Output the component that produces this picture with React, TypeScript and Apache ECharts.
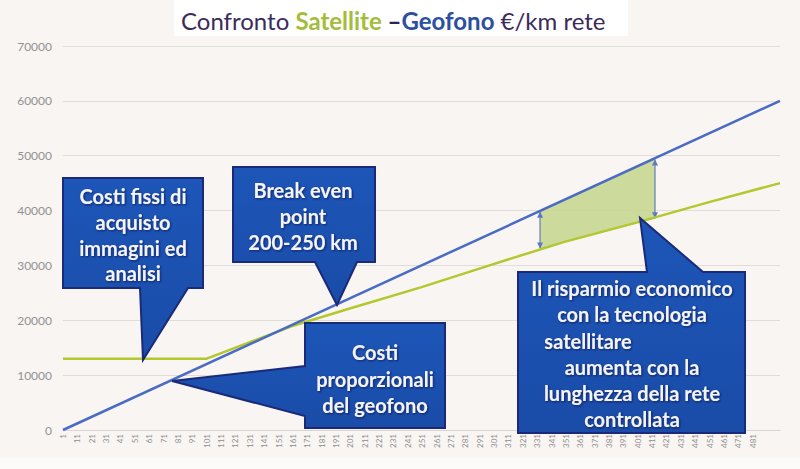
import React, { useEffect, useRef } from 'react';
import * as echarts from 'echarts';

// x categories: network length in km, 1..500
const kmCategories: string[] = Array.from({ length: 500 }, (_, i) => String(i + 1));

// y axis
const yMin = 0;
const yMax = 70000;
const yInterval = 10000;

// Geofono (blue) cost line
const geofonoKm = ['1', '500'];
const geofonoCost = [0, 60000];

// Satellite (green) cost line
const satelliteKm = ['1', '101', '160', '200', '250', '300', '350', '400', '450', '500'];
const satelliteCost = [13000, 13000, 18900, 22100, 26000, 30200, 34300, 37800, 41500, 45000];

// Savings band (shaded area between the lines)
const savingsKm = ['333', '413'];
const savingsTop = [39800, 49300];
const savingsBottom = [33100, 38600];

// Title parts
const titleParts = ['Confronto ', 'Satellite', ' –', 'Geofono', ' €/km rete'];

// Callout texts
const callout1Lines = ['Costi fissi di', 'acquisto', 'immagini ed', 'analisi'];
const callout2Lines = ['Break even', 'point', '200-250 km'];
const callout3Lines = ['Costi', 'proporzionali', 'del geofono'];
const callout4Lines = ['Il risparmio economico', 'con la tecnologia', 'satellitare', 'aumenta con la', 'lunghezza della rete', 'controllata'];

const BOX_FILL = new echarts.graphic.LinearGradient(0, 0, 0, 1, [
  { offset: 0, color: '#1d56b8' },
  { offset: 1, color: '#1a4ca8' },
]);
const BOX_STROKE = '#1a2a78';
const CALLOUT_FONT = 'bold 20px Lato';

function calloutText(lines: string[], cx: number[], ys: number[]) {
  return lines.map((t, i) => ({
    type: 'text',
    z: 101,
    x: cx[i],
    y: ys[i],
    style: {
      text: t,
      fill: '#f4f4f6',
      font: CALLOUT_FONT,
      align: 'center',
      verticalAlign: 'middle',
      textShadowColor: 'rgba(10,20,70,0.7)',
      textShadowBlur: 2,
      textShadowOffsetX: 1,
      textShadowOffsetY: 1,
    },
  }));
}

function calloutShape(points: number[][]) {
  return {
    type: 'polygon',
    z: 100,
    shape: { points },
    style: { fill: BOX_FILL, stroke: BOX_STROKE, lineWidth: 2 },
  };
}

export default function App() {
  const ref = useRef<HTMLDivElement>(null);

  useEffect(() => {
    document.body.style.margin = '0';
    if (!ref.current) return;
    const chart = echarts.init(ref.current, null, { renderer: 'svg' });

    const geofonoData = geofonoKm.map((k, i) => [k, geofonoCost[i]]);
    const satelliteData = satelliteKm.map((k, i) => [k, satelliteCost[i]]);
    const bandData = [[
      kmCategories.indexOf(savingsKm[0]), savingsTop[0], savingsBottom[0],
      kmCategories.indexOf(savingsKm[1]), savingsTop[1], savingsBottom[1],
    ]];

    const option: any = {
      animation: false,
      backgroundColor: '#f9f5f2',
      grid: { left: 63, right: 20, top: 46, bottom: 39, containLabel: false },
      xAxis: {
        type: 'category',
        data: kmCategories,
        boundaryGap: false,
        axisLine: { show: true, lineStyle: { color: '#d9d5d1', width: 1 } },
        axisTick: { show: false },
        axisLabel: {
          interval: 9,
          rotate: 90,
          fontSize: 8,
          color: '#8f8f8f',
          fontFamily: 'Lato',
          margin: 4,
          showMaxLabel: false,
        },
        splitLine: { show: false },
      },
      yAxis: {
        type: 'value',
        min: yMin,
        max: yMax,
        interval: yInterval,
        axisLine: { show: false },
        axisTick: { show: false },
        axisLabel: {
          color: '#929292',
          fontSize: 12,
          fontFamily: 'Lato',
          margin: 11,
          formatter: (v: number) => String(v),
        },
        splitLine: { lineStyle: { color: '#e0dcd8', width: 1 } },
      },
      series: [
        {
          type: 'custom',
          z: 1,
          renderItem: (params: any, api: any) => {
            const x0 = api.value(0), t0 = api.value(1), b0 = api.value(2);
            const x1 = api.value(3), t1 = api.value(4), b1 = api.value(5);
            const pt0 = api.coord([x0, t0]);
            const pb0 = api.coord([x0, b0]);
            const pt1 = api.coord([x1, t1]);
            const pb1 = api.coord([x1, b1]);
            const arrowColor = '#5a78c8';
            const arrow = (p: number[], up: boolean) => ({
              type: 'polygon',
              shape: {
                points: up
                  ? [[p[0], p[1]], [p[0] - 3, p[1] + 6], [p[0] + 3, p[1] + 6]]
                  : [[p[0], p[1]], [p[0] - 3, p[1] - 6], [p[0] + 3, p[1] - 6]],
              },
              style: { fill: arrowColor },
            });
            return {
              type: 'group',
              children: [
                {
                  type: 'polygon',
                  shape: { points: [pt0, pt1, pb1, pb0] },
                  style: { fill: 'rgba(196,214,140,0.85)', stroke: 'rgba(160,180,110,0.6)', lineWidth: 1 },
                },
                { type: 'line', shape: { x1: pt0[0], y1: pt0[1], x2: pb0[0], y2: pb0[1] }, style: { stroke: arrowColor, lineWidth: 1 } },
                { type: 'line', shape: { x1: pt1[0], y1: pt1[1], x2: pb1[0], y2: pb1[1] }, style: { stroke: arrowColor, lineWidth: 1 } },
                arrow(pt0, true), arrow(pb0, false), arrow(pt1, true), arrow(pb1, false),
              ],
            };
          },
          encode: { x: [0, 3], y: [1, 2, 4, 5] },
          data: bandData,
          silent: true,
        },
        {
          name: 'Satellite',
          type: 'line',
          z: 3,
          data: satelliteData,
          showSymbol: false,
          symbol: 'none',
          lineStyle: { color: '#b2c82e', width: 2.5 },
        },
        {
          name: 'Geofono',
          type: 'line',
          z: 4,
          data: geofonoData,
          showSymbol: false,
          symbol: 'none',
          lineStyle: { color: '#4a6bc4', width: 2.5 },
        },
      ],
      graphic: [
        { type: 'rect', z: 0, shape: { x: 0, y: 458, width: 800, height: 11 }, style: { fill: '#fdfbfa' } },
        { type: 'rect', z: 0, shape: { x: 174, y: 0, width: 454, height: 36 }, style: { fill: '#ffffff' } },
        {
          type: 'text',
          z: 5,
          x: 181,
          y: 20,
          style: {
            text: `{a|${titleParts[0]}}{s|${titleParts[1]}}{d|${titleParts[2]}}{g|${titleParts[3]}}{a|${titleParts[4]}}`,
            verticalAlign: 'middle',
            rich: {
              a: { fontSize: 24, fontFamily: 'Lato', fill: '#3b2b5c' },
              d: { fontSize: 24, fontFamily: 'Lato', fontWeight: 'bold', fill: '#2a2550' },
              s: { fontSize: 24, fontFamily: 'Lato', fontWeight: 'bold', fill: '#a3bd3a' },
              g: { fontSize: 24, fontFamily: 'Lato', fontWeight: 'bold', fill: '#2c4f9f' },
            },
          },
        },
        // Callout 1
        calloutShape([[63, 178], [203, 178], [203, 288], [188, 288], [143, 360], [140, 288], [63, 288]]),
        ...calloutText(callout1Lines, [133, 133, 133, 133], [196, 222, 248, 273]),
        // Callout 2
        calloutShape([[233, 167], [375, 167], [375, 262], [357, 262], [337, 305], [315, 262], [233, 262]]),
        ...calloutText(callout2Lines, [303, 303, 303], [190, 216, 242]),
        // Callout 3
        calloutShape([[305, 323], [445, 323], [445, 428], [305, 428], [305, 416], [172, 381], [305, 366]]),
        ...calloutText(callout3Lines, [375, 375, 375], [352, 379, 405]),
        // Callout 4
        calloutShape([[518, 272], [647, 272], [640, 218], [703, 272], [745, 272], [745, 433], [518, 433]]),
        ...calloutText(callout4Lines, [632, 632, 588, 632, 632, 632], [288, 314, 341, 367, 393, 419]),
      ],
    };

    chart.setOption(option);
    return () => chart.dispose();
  }, []);

  return (
    <div
      ref={ref}
      style={{ position: 'absolute', left: 0, top: 0, width: 800, height: 469 }}
    />
  );
}
